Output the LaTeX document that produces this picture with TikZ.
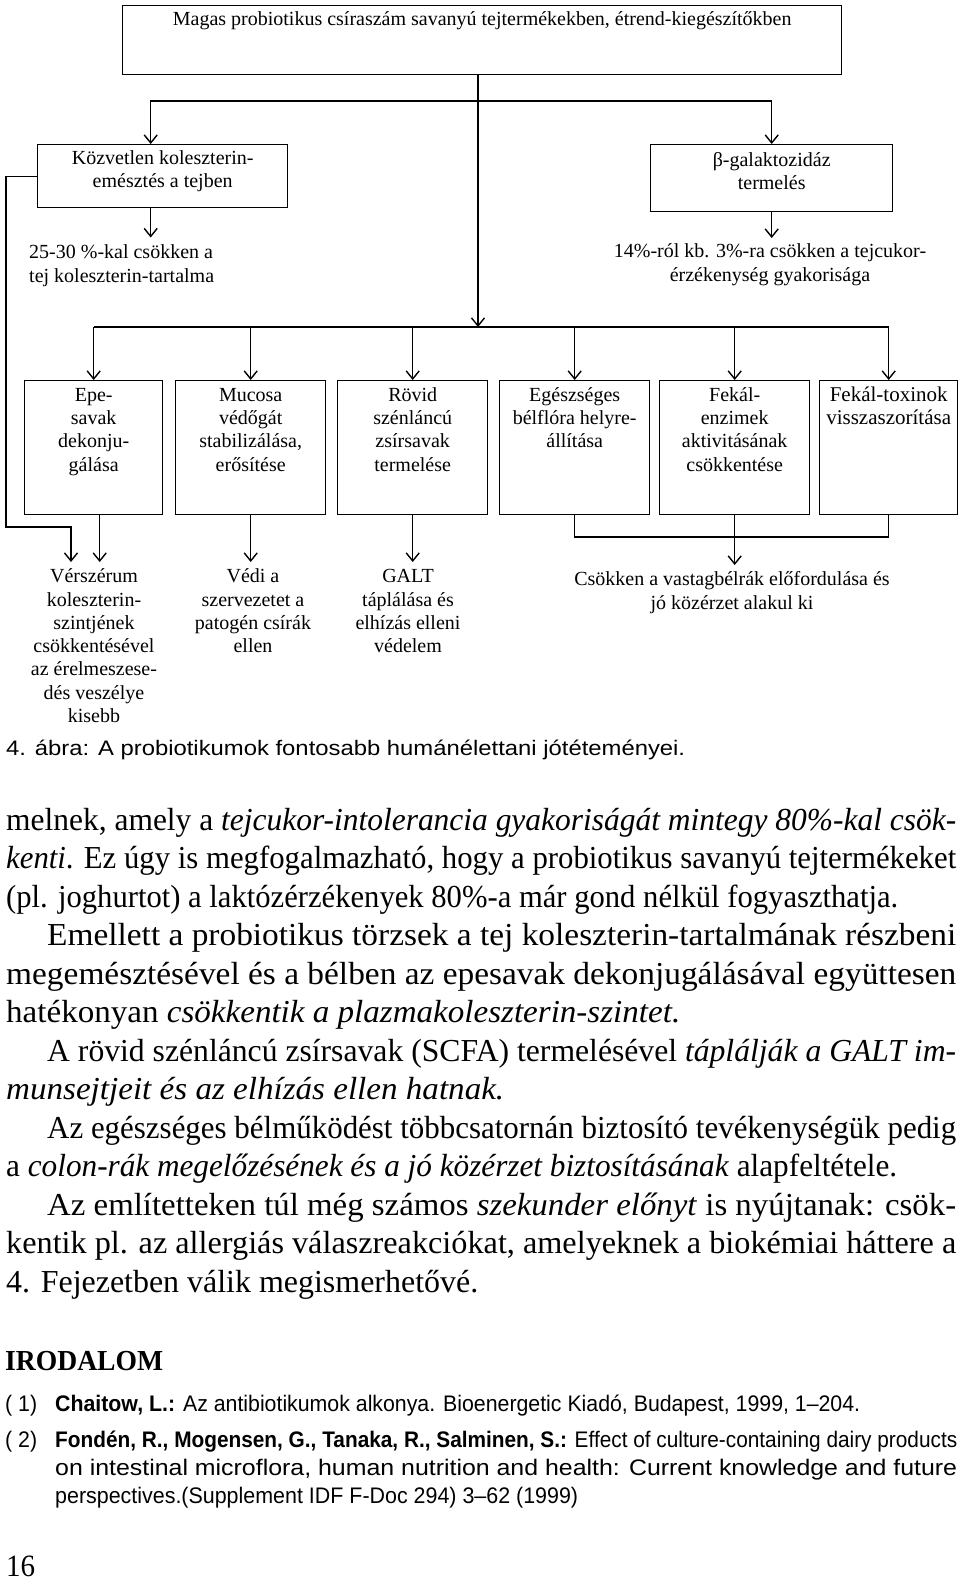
\documentclass[tikz,border=0pt]{standalone}
\usepackage{fontspec}
\usepackage{graphicx}
\setmainfont{Liberation Serif}
\newfontfamily\sansf{Liberation Sans}
\usetikzlibrary{arrows.meta}
\newcommand\boxtext[4]{\parbox[c][#2][t]{#1}{\centering\rule{0pt}{#3}#4}}
\newcommand\txtblk[3]{\parbox[t]{#1}{#2\rule{0pt}{16pt}#3}}
\newcommand\jline[2]{\resizebox{#1}{\height}{\fontsize{32}{36}\selectfont #2}}
\newcommand\sline[2]{\resizebox{#1}{\height}{\sansf\fontsize{22.5}{26}\selectfont #2}}
\tikzset{
 ln/.style={line width=1.4pt},
 arr/.style={ln,-{Straight Barb[length=8pt,width=13pt]}},
 box/.style={draw,ln,inner sep=0pt,anchor=north west,font=\fontsize{20}{23.3}\selectfont},
 txt/.style={inner sep=0pt,font=\fontsize{20}{23.3}\selectfont},
 body/.style={inner sep=0pt,anchor=base west},
}
\begin{document}
\begin{tikzpicture}[x=1pt,y=-1pt]
\useasboundingbox (0,0) rectangle (960,1583);
\fill[white] (0,0) rectangle (960,1583);
% boxes
\node[box] (top) at (122,5) {\boxtext{719pt}{69pt}{20pt}{Magas probiotikus csíraszám savanyú tejtermékekben, étrend-kiegészítőkben}};
\node[box] (kozv) at (37,144) {\boxtext{250pt}{63pt}{19.5pt}{Közvetlen koleszterin-\\emésztés a tejben}};
\node[box] (beta) at (650,144) {\boxtext{242pt}{67pt}{21.5pt}{β-galaktozidáz\\termelés}};
\node[box] (epe) at (24,380) {\boxtext{138pt}{134pt}{20.5pt}{Epe-\\savak\\dekonju-\\gálása}};
\node[box] (muc) at (175,380) {\boxtext{150pt}{134pt}{20.5pt}{Mucosa\\védőgát\\stabilizálása,\\erősítése}};
\node[box] (rov) at (337,380) {\boxtext{150pt}{134pt}{20.5pt}{Rövid\\szénláncú\\zsírsavak\\termelése}};
\node[box] (egesz) at (499,380) {\boxtext{150pt}{134pt}{20.5pt}{Egészséges\\bélflóra helyre-\\állítása}};
\node[box] (fenz) at (659,380) {\boxtext{150pt}{134pt}{20.5pt}{Fekál-\\enzimek\\aktivitásának\\csökkentése}};
\node[box] (ftox) at (819,380) {\boxtext{138pt}{134pt}{20.5pt}{\fontsize{21}{23.3}\selectfont Fekál-toxinok\\visszaszorítása}};
% text nodes
\node[txt,anchor=north west] (tcs) at (29,242.5) {\txtblk{260pt}{\raggedright}{25-30 \%-kal csökken a\\tej koleszterin-tartalma}};
\node[txt,anchor=north] (tlac) at (770,241.5) {\txtblk{340pt}{\centering}{14\%-ról kb. 3\%-ra csökken a tejcukor-\\érzékenység gyakorisága}};
\node[txt,anchor=north] (ver) at (94,566.5) {\txtblk{160pt}{\centering}{Vérszérum\\koleszterin-\\szintjének\\csökkentésével\\az érelmeszese-\\dés veszélye\\kisebb}};
\node[txt,anchor=north] (vedi) at (253,566.5) {\txtblk{160pt}{\centering}{Védi a\\szervezetet a\\patogén csírák\\ellen}};
\node[txt,anchor=north] (galt) at (408,566.5) {\txtblk{160pt}{\centering}{GALT\\táplálása és\\elhízás elleni\\védelem}};
\node[txt,anchor=north] (csokk) at (732,569.5) {\txtblk{400pt}{\centering}{Csökken a vastagbélrák előfordulása és\\jó közérzet alakul ki}};
% connectors
\coordinate (bus1) at (478,101);
\coordinate (bus2) at (478,327);
\coordinate (kozvN) at ([xshift=-12pt]kozv.north);
\coordinate (kozvS) at ([xshift=-12pt]kozv.south);
\draw[arr] (top.south -| bus2) -- (bus2);
\draw[arr] (bus1) -| (kozvN);
\draw[arr] (bus1) -| (beta.north);
\draw[arr,shorten >=5pt] (kozvS) -- (kozvS |- tcs.north);
\draw[arr,shorten >=3.5pt] (beta.south) -- (beta.south |- tlac.north);
\draw[ln] (epe.north |- bus2) -- (ftox.north |- bus2);
\foreach \n in {epe,muc,rov,egesz,fenz,ftox} \draw[arr] (\n.north |- bus2) -- (\n.north);
\coordinate (lb) at (6,527);
\coordinate (verL) at ([xshift=-23pt]ver.north);
\coordinate (epeS) at ([xshift=6pt]epe.south);
\draw[arr,shorten >=4.5pt] (kozv.west) -| (lb) -| (verL);
\draw[arr,shorten >=4.5pt] (epeS) -- (epeS |- ver.north);
\draw[arr,shorten >=4.5pt] (muc.south) -- (muc.south |- vedi.north);
\draw[arr,shorten >=4.5pt] (rov.south) -- (rov.south |- galt.north);
\coordinate (bus3) at (736,537);
\draw[ln] (egesz.south) |- (bus3);
\draw[ln] (ftox.south) |- (bus3);
\draw[arr,shorten >=4.5pt] (fenz.south) -- (fenz.south |- csokk.north);
% caption
\node[body] (cap) at (6,755) {\resizebox{679pt}{\height}{\sansf\fontsize{21}{24}\selectfont 4. ábra: A probiotikumok fontosabb humánélettani jótéteményei.}};
% body text
\node[body] (b1) at (6,830) {\jline{950pt}{melnek, amely a \textit{tejcukor-intolerancia gyakoriságát mintegy 80\%-kal csök-}}};
\node[body] (b2) at (6,868) {\jline{950pt}{\textit{kenti}. Ez úgy is megfogalmazható, hogy a probiotikus savanyú tejtermékeket}};
\node[body] (b3) at (6,907) {\jline{892pt}{(pl. joghurtot) a laktózérzékenyek 80\%-a már gond nélkül fogyaszthatja.}};
\node[body] (b4) at (47,945) {\jline{909pt}{Emellett a probiotikus törzsek a tej koleszterin-tartalmának részbeni}};
\node[body] (b5) at (6,984) {\jline{950pt}{megemésztésével és a bélben az epesavak dekonjugálásával együttesen}};
\node[body] (b6) at (6,1022) {\jline{674pt}{hatékonyan \textit{csökkentik a plazmakoleszterin-szintet.}}};
\node[body] (b7) at (47,1061) {\jline{909pt}{A rövid szénláncú zsírsavak (SCFA) termelésével \textit{táplálják a GALT im-}}};
\node[body] (b8) at (6,1099) {\jline{498pt}{\textit{munsejtjeit és az elhízás ellen hatnak.}}};
\node[body] (b9) at (47,1138) {\jline{909pt}{Az egészséges bélműködést többcsatornán biztosító tevékenységük pedig}};
\node[body] (b10) at (6,1176) {\jline{891pt}{a \textit{colon-rák megelőzésének és a jó közérzet biztosításának} alapfeltétele.}};
\node[body] (b11) at (47,1215) {\jline{909pt}{Az említetteken túl még számos \textit{szekunder előnyt} is nyújtanak: csök-}};
\node[body] (b12) at (6,1253) {\jline{950pt}{kentik pl. az allergiás válaszreakciókat, amelyeknek a biokémiai háttere a}};
\node[body] (b13) at (6,1292) {\jline{472pt}{4. Fejezetben válik megismerhetővé.}};
% references
\node[body] (irod) at (5,1370) {\resizebox{158pt}{\height}{\bfseries\fontsize{29}{32}\selectfont IRODALOM}};
\node[body] (n1) at (5,1411) {\sline{32pt}{( 1)}};
\node[body] (r1) at (55,1411) {\sline{805pt}{\textbf{Chaitow, L.:} Az antibiotikumok alkonya. Bioenergetic Kiadó, Budapest, 1999, 1–204.}};
\node[body] (n2) at (5,1447) {\sline{32pt}{( 2)}};
\node[body] (r2a) at (55,1447) {\sline{902pt}{\textbf{Fondén, R., Mogensen, G., Tanaka, R., Salminen, S.:} Effect of culture-containing dairy products}};
\node[body] (r2b) at (55,1475) {\sline{902pt}{on intestinal microflora, human nutrition and health: Current knowledge and future}};
\node[body] (r2c) at (55,1503) {\sline{523pt}{perspectives.(Supplement IDF F-Doc 294) 3–62 (1999)}};
\node[body] (pg) at (6,1576) {\resizebox{29pt}{\height}{\fontsize{31}{34}\selectfont 16}};
\end{tikzpicture}
\end{document}
